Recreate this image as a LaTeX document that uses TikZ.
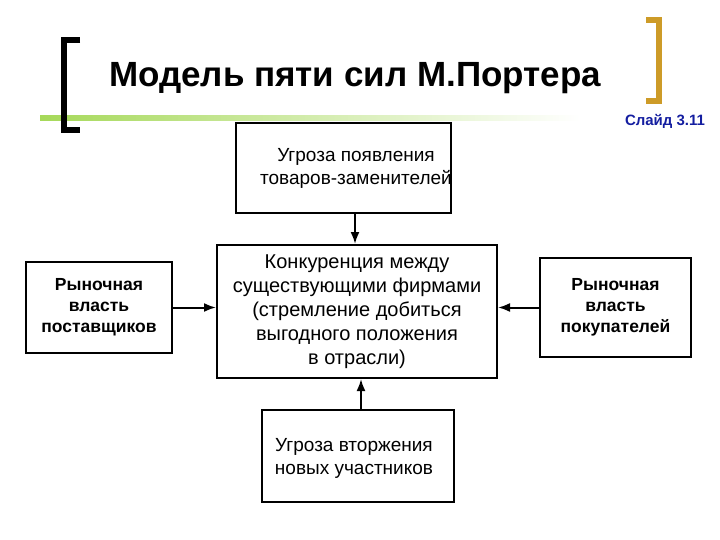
\documentclass[tikz,border=0pt]{standalone}
\usepackage{fontspec}
\setmainfont{Liberation Sans}
\usetikzlibrary{arrows.meta}
\begin{document}
\begin{tikzpicture}[x=1pt,y=-1pt,
  box/.style={draw,line width=2pt,align=center,inner sep=0pt},
  txt/.style={font=\fontsize{19}{23}\selectfont},
  btxt/.style={font=\fontsize{17.5}{21}\selectfont\bfseries},
  arr/.style={line width=2pt,-{Latex[length=12pt,width=9pt]}}]
\useasboundingbox (0,0) rectangle (720,540);
% decoration
\shade[left color=olive!60!green!50, right color=white] (40,116) rectangle (580,121);
\draw[line width=6pt] (80,40) -- (64,40) -- (64,130) -- (80,130);
\draw[line width=6pt,color={rgb,255:red,205;green,155;blue,40}] (646,20) -- (659,20) -- (659,101) -- (646,101);
\node[font=\fontsize{35}{40}\selectfont\bfseries] (title) at (355,78) {Модель пяти сил М.Портера};
\node[text={rgb,255:red,20;green,30;blue,160},font=\fontsize{15}{18}\selectfont\bfseries] (slide) at (665,121) {Слайд 3.11};
% boxes
\node[box,minimum width=215pt,minimum height=90pt] (top) at (343.5,168) {};
\node[align=center,txt] at (356,168) {Угроза появления\\товаров-заменителей};
\node[box,minimum width=280pt,minimum height=133pt,font=\fontsize{20}{24}\selectfont] (mid) at (357,311.5) {Конкуренция между\\существующими фирмами\\(стремление добиться\\выгодного положения\\в отрасли)};
\node[box,minimum width=192pt,minimum height=92pt] (bot) at (358,456) {};
\node[align=center,txt] at (354,458) {Угроза вторжения\\новых участников};
\node[box,minimum width=146pt,minimum height=91pt,btxt] (left) at (99,307.5) {Рыночная\\власть\\поставщиков};
\node[box,minimum width=151pt,minimum height=99pt,btxt] (right) at (615.5,307.5) {Рыночная\\власть\\покупателей};
% arrows
\draw[arr] (top.south -| mid.north) ++(-2,0) coordinate (a1) -- (a1 |- mid.north);
\draw[arr] (bot.north) ++(3,0) coordinate (a2) -- (a2 |- mid.south);
\draw[arr] (left.east) -- (left.east -| mid.west);
\draw[arr] (right.west) -- (right.west -| mid.east);
\end{tikzpicture}
\end{document}
